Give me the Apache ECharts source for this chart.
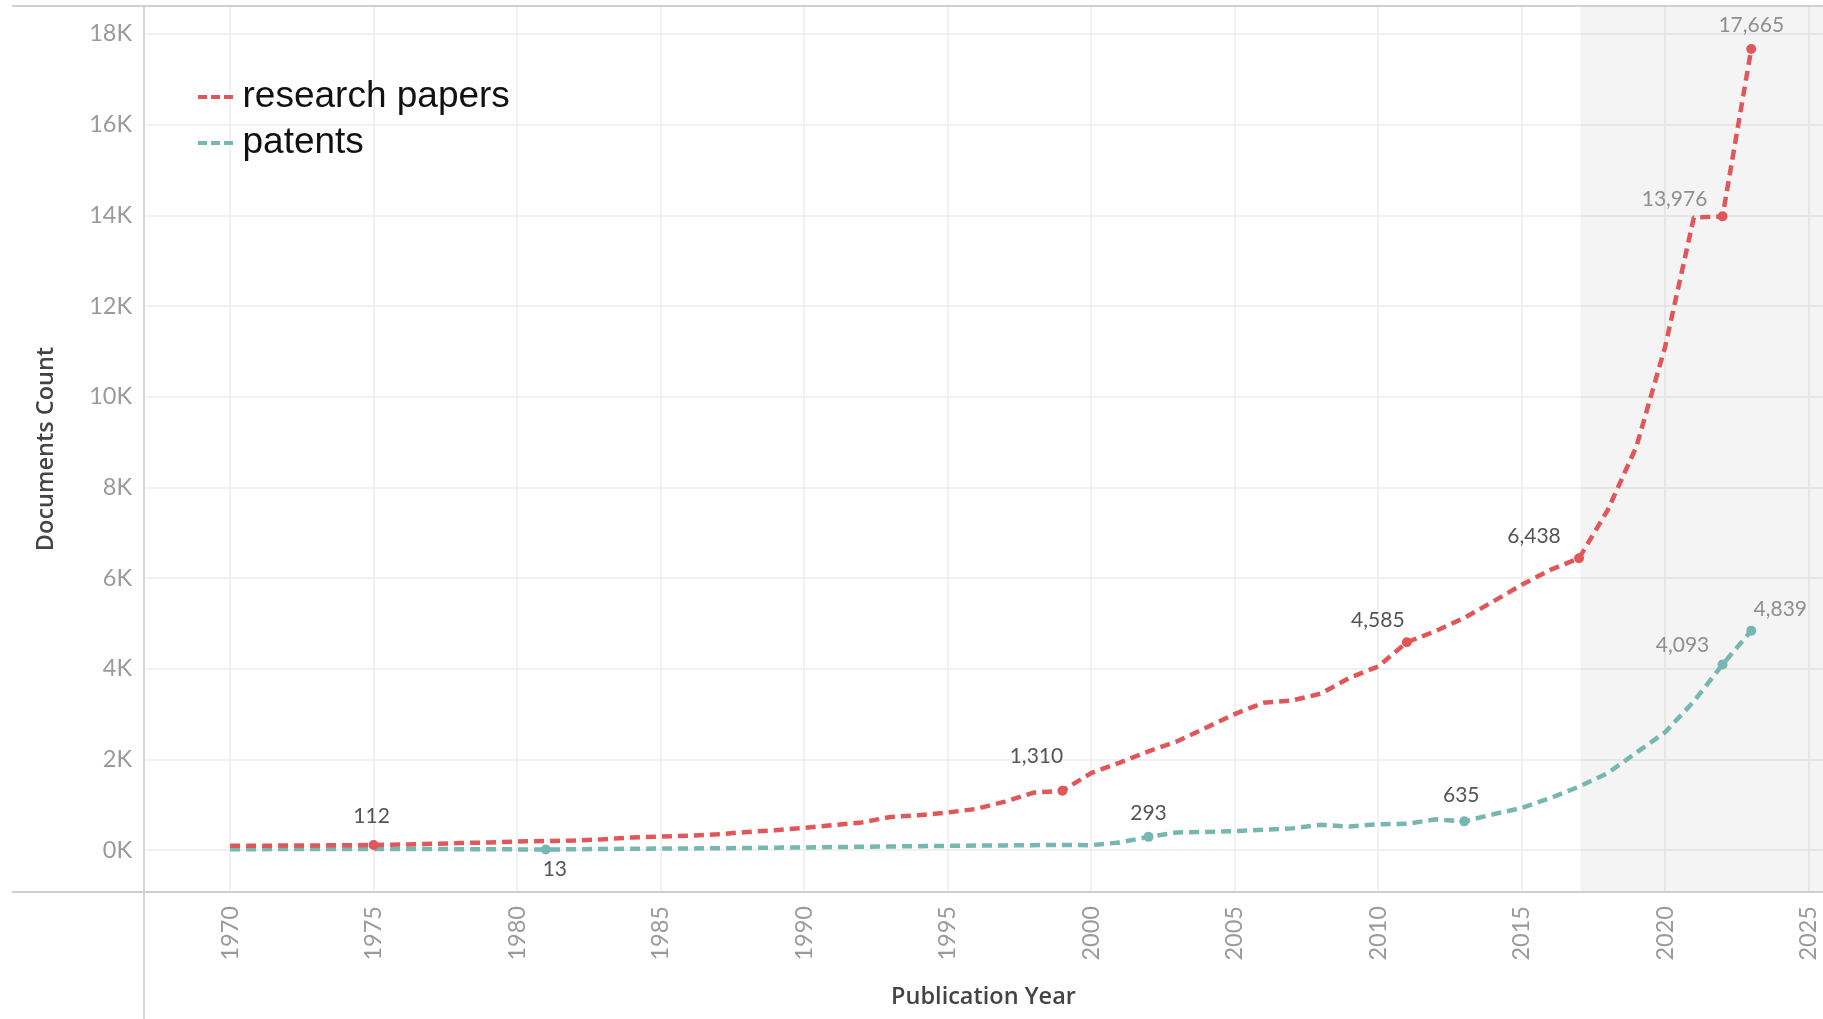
<!DOCTYPE html>
<html>
<head>
<meta charset="utf-8">
<script src="https://cdn.jsdelivr.net/npm/echarts@6/dist/echarts.min.js"></script>
<style>
html,body{margin:0;padding:0;background:#ffffff;}
#chart{width:1823px;height:1019px;}
</style>
</head>
<body>
<div id="chart"></div>
<script>
// ---------- data ----------
const years = [1970,1971,1972,1973,1974,1975,1976,1977,1978,1979,
               1980,1981,1982,1983,1984,1985,1986,1987,1988,1989,
               1990,1991,1992,1993,1994,1995,1996,1997,1998,1999,
               2000,2001,2002,2003,2004,2005,2006,2007,2008,2009,
               2010,2011,2012,2013,2014,2015,2016,2017,2018,2019,
               2020,2021,2022,2023];
const researchPapers = [95,98,101,104,108,112,125,140,155,170,
                        190,200,210,240,280,300,320,350,400,440,
                        490,550,610,730,770,830,910,1070,1270,1310,
                        1700,1930,2180,2400,2700,3000,3250,3300,3450,3800,
                        4050,4585,4830,5120,5480,5850,6180,6438,7500,8900,
                        11100,13950,13976,17665];
const patents = [20,22,24,25,27,28,26,24,22,20,
                 17,13,20,25,30,35,38,42,48,55,
                 60,68,75,80,88,95,100,105,110,115,
                 110,170,293,390,400,420,450,480,560,520,
                 570,580,680,635,790,930,1150,1400,1700,2150,
                 2600,3280,4093,4839];
const yearTicks = [1970,1975,1980,1985,1990,1995,2000,2005,2010,2015,2020,2025];
const countTicks = [0,2000,4000,6000,8000,10000,12000,14000,16000,18000];
const paperLabelYears = [1975,1999,2011,2017,2022,2023];
const patentLabelYears = [1981,2002,2013,2022,2023];
const recentWindowStart = 2017.05;
const xExtent = [1967.0, 2025.5];
const yExtent = [-923, 18615];

// ---------- styling / layout (not data) ----------
const RED = '#e15759';
const TEAL = '#76b7b2';
const labelLayout = {
  paper: {1975:[-2,-29,'#555'],1999:[-26,-35,'#555'],2011:[-29,-22,'#555'],2017:[-45,-22,'#555'],2022:[-48,-17,'#8f8f8f'],2023:[0,-24,'#8f8f8f']},
  patent:{1981:[9,20,'#555'],2002:[0,-24,'#555'],2013:[-3,-26,'#555'],2022:[-40,-19,'#8f8f8f'],2023:[29,-21,'#8f8f8f']}
};
const fmt = v => v.toLocaleString('en-US');

function buildData(values, labeled, layout) {
  return years.map((y, i) => {
    const item = { value: [y, values[i]] };
    if (labeled.indexOf(y) >= 0) {
      const L = layout[y];
      item.symbolSize = 10;
      item.label = {
        show: true, position: 'inside', offset: [L[0], L[1]],
        color: L[2], fontSize: 21, fontFamily: 'Lato',
        formatter: p => fmt(p.value[1])
      };
    }
    return item;
  });
}

const chart = echarts.init(document.getElementById('chart'), null, {renderer: 'canvas'});
const option = {
  animation: false,
  backgroundColor: '#ffffff',
  grid: { left: 144, top: 6, right: 0, bottom: 127, containLabel: false },
  legend: {
    orient: 'vertical', left: 193, top: 72, itemGap: 6,
    itemWidth: 36, itemHeight: 4,
    icon: 'path://M0,0H9V4H0Z M13,0H22V4H13Z M26,0H35V4H26Z',
    textStyle: { color: '#111', fontSize: 37, fontFamily: 'Liberation Sans', lineHeight: 40, padding: [0,0,0,4] },
    data: ['research papers', 'patents']
  },
  xAxis: {
    type: 'value', min: xExtent[0], max: xExtent[1],
    name: 'Publication Year', nameLocation: 'middle', nameGap: 93,
    nameTextStyle: { color: '#444', fontSize: 23.5, fontWeight: 600, fontFamily: 'Open Sans' },
    axisLine: { show: false },
    axisTick: { show: false, customValues: yearTicks },
    axisLabel: { customValues: yearTicks, rotate: 90, margin: 14, color: '#9a9a9a', fontSize: 23.5, fontFamily: 'Lato', formatter: v => String(v) },
    splitLine: { show: true, lineStyle: { color: '#ececec', width: 1.5 } }
  },
  yAxis: {
    type: 'value', min: yExtent[0], max: yExtent[1],
    name: 'Documents Count', nameLocation: 'middle', nameGap: 86,
    nameTextStyle: { color: '#444', fontSize: 23.5, fontWeight: 600, fontFamily: 'Open Sans' },
    axisLine: { show: false },
    axisTick: { show: false, customValues: countTicks },
    axisLabel: { customValues: countTicks, margin: 12, color: '#9a9a9a', fontSize: 23.5, fontFamily: 'Lato', formatter: v => (v/1000) + 'K' },
    splitLine: { show: true, lineStyle: { color: '#ececec', width: 1.5 } }
  },
  graphic: [
    { type: 'line', z: 100, shape: { x1: 12, y1: 892, x2: 1823, y2: 892 }, style: { stroke: '#cfcfcf', lineWidth: 2 } },
    { type: 'line', z: 100, shape: { x1: 144, y1: 6, x2: 144, y2: 1019 }, style: { stroke: '#d6d6d6', lineWidth: 2 } },
    { type: 'line', z: 100, shape: { x1: 12, y1: 6, x2: 1823, y2: 6 }, style: { stroke: '#d0d0d0', lineWidth: 2 } }
  ],
  series: [
    {
      name: 'research papers', type: 'line', z: 3,
      data: buildData(researchPapers, paperLabelYears, labelLayout.paper),
      symbol: 'circle', symbolSize: 0, showSymbol: true, showAllSymbol: true,
      itemStyle: { color: RED },
      lineStyle: { color: RED, width: 4.5, type: [10, 6] },
      markArea: {
        silent: true,
        itemStyle: { color: 'rgba(0,0,0,0.045)' },
        data: [[{ coord: [recentWindowStart, yExtent[0]] }, { coord: [xExtent[1], yExtent[1]] }]]
      }
    },
    {
      name: 'patents', type: 'line', z: 2,
      data: buildData(patents, patentLabelYears, labelLayout.patent),
      symbol: 'circle', symbolSize: 0, showSymbol: true, showAllSymbol: true,
      itemStyle: { color: TEAL },
      lineStyle: { color: TEAL, width: 4.5, type: [10, 6] }
    }
  ]
};
chart.setOption(option);
</script>
</body>
</html>
